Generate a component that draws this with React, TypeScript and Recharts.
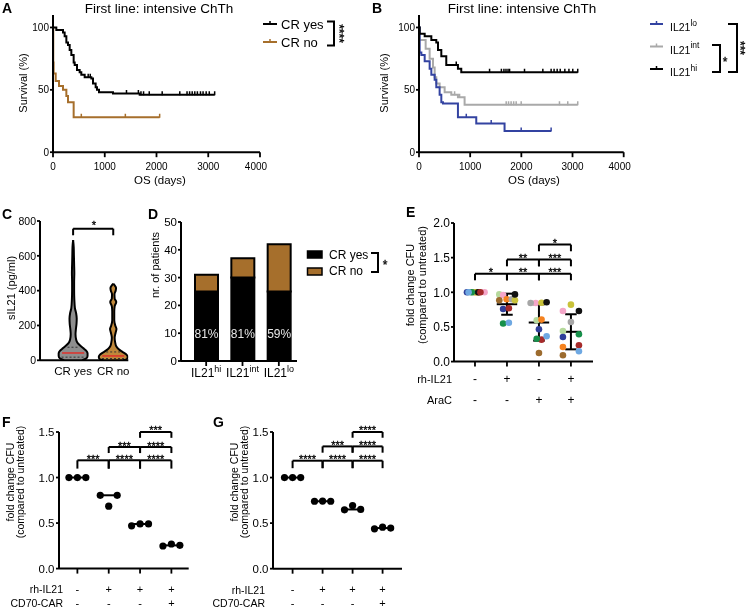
import React from "react";
import {
  ComposedChart,
  Line,
  Scatter,
  Area,
  XAxis,
  YAxis,
  BarChart,
  Bar,
  LabelList,
  ReferenceLine,
} from "recharts";

const FONT = "'Liberation Sans', Arial, Helvetica, sans-serif";
const BROWN = "#A66F2C";
const BLUE = "#3343A1";
const GREY = "#A9A9A9";

// ---------- A / B: Kaplan-Meier, OS (days) vs survival (%) ----------
type Step = [number, number];

const crYesSteps: Step[] = [
  [0, 100], [64, 98], [193, 96], [225, 93], [258, 88], [290, 86], [322, 82], [354, 78],
  [399, 72], [419, 70], [464, 66], [515, 64], [547, 62], [612, 60], [741, 59], [773, 55],
  [824, 52], [850, 50], [889, 48], [1159, 47], [1675, 46], [3124, 46],
];
const crYesCensored = [680, 720, 1420, 1650, 1700, 1750, 1860, 2110, 2450, 2590, 2640, 2690, 2740, 2790, 2850, 2900, 2960, 3020, 3124];
const crNoSteps: Step[] = [
  [0, 100], [5, 72], [12, 63], [52, 57], [116, 53], [193, 50], [258, 45], [290, 40], [399, 28], [2061, 28],
];
const crNoCensored = [547, 1398, 2061];

const il21HiSteps: Step[] = [
  [0, 100], [13, 95], [111, 93], [241, 90], [338, 88], [371, 82], [436, 77], [533, 70], [761, 67], [826, 64], [3102, 64],
];
const il21HiCensored = [728, 1379, 1610, 1660, 1700, 1740, 1770, 2062, 2420, 2582, 2640, 2700, 2760, 2850, 2930, 3005, 3102];
const il21IntSteps: Step[] = [
  [0, 100], [13, 90], [130, 83], [208, 75], [273, 68], [306, 60], [338, 55], [403, 52], [501, 48], [631, 46], [761, 44], [891, 38], [3102, 38],
];
const il21IntCensored = [696, 793, 1704, 1750, 1800, 1850, 1899, 1997, 2745, 2907, 3102];
const il21LoSteps: Step[] = [
  [0, 100], [13, 80], [46, 78], [111, 73], [208, 67], [241, 62], [306, 58], [338, 52], [403, 46], [436, 40],
  [468, 39], [761, 28], [1119, 23], [1672, 17], [2582, 17],
];
const il21LoCensored = [924, 1411, 1997, 2582];

const osTicks = [0, 1000, 2000, 3000, 4000];
const survTicks = [0, 50, 100];

// ---------- C: sIL21 violins ----------
const cGroups = ["CR yes", "CR no"];
// [pg/ml, half width of violin]
const cYesProfile: [number, number][] = [
  [0, 0.225], [10, 0.325], [25, 0.36], [40, 0.36], [55, 0.325], [70, 0.25], [85, 0.175], [100, 0.11],
  [120, 0.075], [150, 0.06], [180, 0.07], [210, 0.085], [240, 0.09], [270, 0.075], [300, 0.045],
  [350, 0.03], [400, 0.025], [450, 0.025], [500, 0.03], [550, 0.025], [600, 0.02], [650, 0.015], [690, 0],
];
const cNoProfile: [number, number][] = [
  [0, 0.25], [10, 0.35], [20, 0.36], [35, 0.32], [50, 0.22], [65, 0.13], [80, 0.075], [100, 0.05],
  [130, 0.035], [160, 0.06], [180, 0.08], [200, 0.05], [230, 0.025], [280, 0.025], [310, 0.035],
  [335, 0.075], [355, 0.035], [380, 0.03], [400, 0.06], [415, 0.07], [430, 0.035], [440, 0],
];
const cMedians = [42, 25];
const cQuartiles = [[18, 75], [10, 48]];

// ---------- D: patients per IL21 group ----------
const dGroups = ["hi", "int", "lo"];
const dCrYes = [25, 30, 25];
const dCrNo = [6, 7, 17];
const dPct = ["81%", "81%", "59%"];

// ---------- E: CFU, 11 donors ----------
const eRhIL21 = ["-", "+", "-", "+"];
const eAraC = ["-", "-", "+", "+"];
const eDonorColors = ["#B5D99C", "#F4A6C8", "#9C6B2E", "#F5821F", "#A6A6A6", "#C9C23A", "#111111", "#2F3F99", "#A62A2A", "#16904A", "#6EA8E2"];
const eValues = [
  [1, 0.97, 0.596, 0.44],
  [1, 0.96, 0.846, 0.73],
  [1, 0.885, 0.125, 0.091],
  [1, 0.9, 0.606, 0.21],
  [1, 0.9, 0.846, 0.572],
  [1, 0.885, 0.85, 0.822],
  [1, 0.97, 0.856, 0.73],
  [1, 0.76, 0.466, 0.356],
  [1, 0.77, 0.317, 0.236],
  [1, 0.55, 0.33, 0.394],
  [1, 0.56, 0.365, 0.149],
];
const eJitter = [
  [-0.15, -0.24, -0.07, -0.25],
  [0.3, -0.12, -0.1, -0.25],
  [0.12, -0.24, 0, -0.25],
  [0.05, -0.01, 0.08, -0.25],
  [-0.05, 0.15, -0.26, 0],
  [0, 0.25, 0.08, 0],
  [0.1, 0.25, 0.24, 0.25],
  [-0.25, -0.12, 0, -0.25],
  [0.17, 0.06, 0.08, 0.25],
  [-0.1, -0.12, -0.07, 0.25],
  [-0.2, 0.06, 0.24, 0.25],
];
// [from, to, y of bar, y of end ticks, label]
type Br = [number, number, number, number, string];
const eBrackets: Br[] = [
  [1, 2, 1.267, 1.173, "*"], [2, 3, 1.267, 1.173, "**"], [3, 4, 1.267, 1.173, "***"],
  [2, 3, 1.472, 1.375, "**"], [3, 4, 1.472, 1.375, "***"],
  [3, 4, 1.688, 1.592, "*"],
];

// ---------- F / G: CD70-CAR ----------
const fgRhIL21 = ["-", "+", "+", "+"];
const fgCar = ["-", "-", "-", "+"];
const fValues = [[1, 1, 1], [0.805, 0.685, 0.805], [0.47, 0.49, 0.49], [0.248, 0.27, 0.255]];
const gValues = [[1, 1, 1], [0.74, 0.742, 0.74], [0.646, 0.693, 0.65], [0.438, 0.456, 0.446]];
const fgJitter = [-0.27, 0, 0.27];
const fBrackets: Br[] = [
  [1, 2, 1.189, 1.098, "***"], [2, 3, 1.189, 1.098, "****"], [3, 4, 1.189, 1.098, "****"],
  [2, 3, 1.335, 1.269, "***"], [3, 4, 1.335, 1.269, "****"],
  [3, 4, 1.5, 1.436, "***"],
];
const gBrackets: Br[] = [
  [1, 2, 1.185, 1.103, "****"], [2, 3, 1.185, 1.103, "****"], [3, 4, 1.185, 1.103, "****"],
  [2, 3, 1.342, 1.273, "***"], [3, 4, 1.342, 1.273, "****"],
  [3, 4, 1.5, 1.437, "****"],
];
const cfuTicks = [0, 0.5, 1, 1.5];

// ---------- helpers ----------
const axisLine = { stroke: "#000", strokeWidth: 2 };
const tickLine = { stroke: "#000", strokeWidth: 1.8 };
const tickText = (fs: number) => ({ fill: "#000", fontSize: fs, fontFamily: FONT });

type Rect = { x0: number; y0: number; x1: number; y1: number };
const YW = 44;
const PAD = 12;
function frame(r: Rect, xh: number) {
  return {
    pos: { position: "absolute" as const, left: r.x0 - YW, top: r.y0 - PAD, willChange: "transform" },
    width: r.x1 - r.x0 + YW + PAD,
    height: r.y1 - r.y0 + PAD + xh,
    margin: { top: PAD, right: PAD, bottom: 0, left: 0 },
  };
}

function survAt(steps: Step[], t: number) {
  let s = steps[0][1];
  for (const [tt, ss] of steps) if (tt <= t) s = ss;
  return s;
}

function XTick(props: any) {
  const { x, y, payload, fs, dy, fmt } = props;
  return (
    <text x={x} y={y + dy} textAnchor="middle" fontSize={fs} fontFamily={FONT} fill="#000">
      {fmt ? fmt(payload.value) : payload.value}
    </text>
  );
}

function SupTick(props: any) {
  const { x, y, payload } = props;
  return (
    <text x={x} y={y + 11} textAnchor="middle" fontSize={12} fontFamily={FONT} fill="#000">
      IL21
      <tspan dy={-5} fontSize={9}>{payload.value}</tspan>
    </text>
  );
}

function SignTick(props: any) {
  const { x, y, payload, rows, dys, fs } = props;
  const i = Math.round(payload.value) - 1;
  return (
    <g>
      {rows.map((r: string[], k: number) => (
        <text key={k} x={x} y={y + dys[k]} textAnchor="middle" fontSize={fs} fontFamily={FONT} fill="#000">
          {r[i]}
        </text>
      ))}
    </g>
  );
}

// significance stars above a bracket
function StarLabel(props: any) {
  const { viewBox, text } = props;
  if (!viewBox || !text) return null;
  return (
    <text x={viewBox.x + viewBox.width / 2} y={viewBox.y + 2.5} textAnchor="middle" fontSize={11}
      fontFamily={FONT} fill="#000" stroke="#000" strokeWidth={0.3}>
      {text}
    </text>
  );
}

const censorShape = (color: string) => (p: any) =>
  <line x1={p.cx} x2={p.cx} y1={p.cy - 3.5} y2={p.cy + 0.5} stroke={color} strokeWidth={1.5} />;

function bracketLines(list: Br[], prefix: string) {
  const seg = { stroke: "#000", strokeWidth: 2, ifOverflow: "visible" as const };
  return list.flatMap(([a, b, y, yt, lab], i) => [
    <ReferenceLine key={`${prefix}h${i}`} segment={[{ x: a, y }, { x: b, y }]} {...seg} label={<StarLabel text={lab} />} />,
    <ReferenceLine key={`${prefix}a${i}`} segment={[{ x: a, y }, { x: a, y: yt }]} {...seg} />,
    <ReferenceLine key={`${prefix}b${i}`} segment={[{ x: b, y }, { x: b, y: yt }]} {...seg} />,
  ]);
}

type Curve = { steps: Step[]; censored: number[]; color: string };

function KMChart({ rect, curves }: { rect: Rect; curves: Curve[] }) {
  const f = frame(rect, 26);
  return (
    <div style={f.pos}>
      <ComposedChart width={f.width} height={f.height} margin={f.margin}>
        <XAxis type="number" dataKey="t" domain={[0, 4000]} ticks={osTicks} allowDataOverflow height={26}
          axisLine={axisLine} tickLine={tickLine} tickSize={5} tickMargin={0} tick={<XTick fs={10} dy={13} />} />
        <YAxis type="number" dataKey="s" domain={[0, 110]} ticks={survTicks} allowDataOverflow width={YW}
          axisLine={axisLine} tickLine={tickLine} tickSize={3} tickMargin={1} tick={tickText(10)} />
        {curves.map((c, i) => (
          <Line key={`l${i}`} data={c.steps.map(([t, s]) => ({ t, s }))} dataKey="s" type="stepAfter"
            stroke={c.color} strokeWidth={2} dot={false} isAnimationActive={false} />
        ))}
        {curves.map((c, i) => (
          <Scatter key={`c${i}`} data={c.censored.map((t) => ({ t, s: survAt(c.steps, t) }))} dataKey="s"
            fill={c.color} shape={censorShape(c.color)} isAnimationActive={false} />
        ))}
      </ComposedChart>
    </div>
  );
}

function ViolinChart() {
  const rect = { x0: 40, y0: 220.7, x1: 128.3, y1: 360 };
  const f = frame(rect, 24);
  const violin = (prof: [number, number][], c: number) => prof.map(([v, w]) => ({ v, r: [c - w, c + w] }));
  const hwAt = (prof: [number, number][], v: number) => (prof.find((p) => p[0] >= v) || prof[0])[1];
  const profs = [cYesProfile, cNoProfile];
  return (
    <div style={f.pos}>
      <ComposedChart layout="vertical" width={f.width} height={f.height} margin={f.margin}>
        <XAxis type="number" domain={[0.175, 2.375]} ticks={[1, 2]} allowDataOverflow height={24}
          axisLine={axisLine} tickLine={false} tickSize={0} tickMargin={0}
          tick={<XTick fs={11.5} dy={15} fmt={(v: number) => cGroups[v - 1]} />} />
        <YAxis type="number" dataKey="v" domain={[0, 800]} ticks={[0, 200, 400, 600, 800]} allowDataOverflow width={YW}
          reversed axisLine={axisLine} tickLine={tickLine} tickSize={3} tickMargin={1} tick={tickText(10.5)} />
        <Area data={violin(cYesProfile, 1)} dataKey="r" type="monotone" stroke="#000" strokeWidth={2}
          fill="#8E8E8E" fillOpacity={1} isAnimationActive={false} />
        <Area data={violin(cNoProfile, 2)} dataKey="r" type="monotone" stroke="#000" strokeWidth={2}
          fill="#C0883A" fillOpacity={1} isAnimationActive={false} />
        {cQuartiles.flatMap((q, i) =>
          q.map((v, k) => (
            <ReferenceLine key={`q${i}${k}`} segment={[{ x: i + 1 - hwAt(profs[i], v) * 0.8, y: v }, { x: i + 1 + hwAt(profs[i], v) * 0.8, y: v }]}
              stroke="#333" strokeWidth={1} strokeDasharray="2 2" />
          ))
        )}
        {cMedians.map((m, i) => (
          <ReferenceLine key={`m${i}`} segment={[{ x: i + 1 - hwAt(profs[i], m) * 0.85, y: m }, { x: i + 1 + hwAt(profs[i], m) * 0.85, y: m }]}
            stroke="#E0302A" strokeWidth={1.5} />
        ))}
        {bracketLines([[1, 2, 756, 718, ""]], "c")}
      </ComposedChart>
    </div>
  );
}

function StackChart() {
  const rect = { x0: 181, y0: 222, x1: 297, y1: 361 };
  const f = frame(rect, 26);
  const data = dGroups.map((g, i) => ({ g, yes: dCrYes[i], no: dCrNo[i], pct: dPct[i] }));
  return (
    <div style={f.pos}>
      <BarChart data={data} width={f.width} height={f.height} margin={f.margin}>
        <XAxis dataKey="g" type="category" padding={{ left: 7, right: 0 }} height={26}
          axisLine={axisLine} tickLine={tickLine} tickSize={5} tickMargin={0} tick={<SupTick />} />
        <YAxis type="number" domain={[0, 50]} ticks={[0, 10, 20, 30, 40, 50]} allowDataOverflow width={YW}
          axisLine={axisLine} tickLine={tickLine} tickSize={3} tickMargin={1} tick={tickText(11.5)} />
        <Bar dataKey="yes" stackId="s" fill="#000" stroke="#000" strokeWidth={2} barSize={23} isAnimationActive={false}>
          <LabelList dataKey="pct" position="insideBottom" offset={23} fill="#E6E6E6" fontSize={12} fontFamily={FONT} />
        </Bar>
        <Bar dataKey="no" stackId="s" fill={BROWN} stroke="#000" strokeWidth={2} barSize={23} isAnimationActive={false} />
      </BarChart>
    </div>
  );
}

function colStats(values: number[][], g: number) {
  const col = values.map((r) => r[g]);
  const m = col.reduce((a, b) => a + b, 0) / col.length;
  const sd = Math.sqrt(col.reduce((a, b) => a + (b - m) * (b - m), 0) / (col.length - 1));
  return { m, sd };
}

function DonorChart() {
  const rect = { x0: 454, y0: 222.7, x1: 593, y1: 361.3 };
  const f = frame(rect, 50);
  const seg = { stroke: "#000", strokeWidth: 2, ifOverflow: "visible" as const };
  return (
    <div style={f.pos}>
      <ComposedChart width={f.width} height={f.height} margin={f.margin}>
        <XAxis type="number" dataKey="x" domain={[0.344, 4.69]} ticks={[1, 2, 3, 4]} allowDataOverflow height={50}
          axisLine={axisLine} tickLine={tickLine} tickSize={5} tickMargin={0}
          tick={<SignTick rows={[eRhIL21, eAraC]} dys={[16, 37.5]} fs={12} />} />
        <YAxis type="number" dataKey="y" domain={[0, 2]} ticks={[0, 0.5, 1, 1.5, 2]} allowDataOverflow width={YW}
          axisLine={axisLine} tickLine={tickLine} tickSize={3} tickMargin={1} tick={tickText(12)}
          tickFormatter={(v: number) => v.toFixed(1)} />
        {eDonorColors.map((c, i) => (
          <Scatter key={`d${i}`} data={eValues[i].map((v, g) => ({ x: g + 1 + eJitter[i][g], y: v }))}
            fill={c} isAnimationActive={false}
            shape={(p: any) => <circle cx={p.cx} cy={p.cy} r={3.3} fill={c} />} />
        ))}
        {[0, 1, 2, 3].flatMap((g) => {
          const { m, sd } = colStats(eValues, g);
          const x = g + 1;
          const out = [<ReferenceLine key={`em${g}`} segment={[{ x: x - 0.32, y: m }, { x: x + 0.32, y: m }]} {...seg} />];
          if (sd > 0) {
            out.push(
              <ReferenceLine key={`ev${g}`} segment={[{ x, y: m - sd }, { x, y: m + sd }]} {...seg} />,
              <ReferenceLine key={`et${g}`} segment={[{ x: x - 0.18, y: m + sd }, { x: x + 0.18, y: m + sd }]} {...seg} />,
              <ReferenceLine key={`eb${g}`} segment={[{ x: x - 0.18, y: m - sd }, { x: x + 0.18, y: m - sd }]} {...seg} />
            );
          }
          return out;
        })}
        {bracketLines(eBrackets, "e")}
      </ComposedChart>
    </div>
  );
}

function CarChart({ rect, values, domain, brackets, id }: { rect: Rect; values: number[][]; domain: [number, number]; brackets: Br[]; id: string }) {
  const f = frame(rect, 42);
  const pts = values.flatMap((grp, g) => grp.map((v, k) => ({ x: g + 1 + fgJitter[k], y: v })));
  return (
    <div style={f.pos}>
      <ComposedChart width={f.width} height={f.height} margin={f.margin}>
        <XAxis type="number" dataKey="x" domain={domain} ticks={[1, 2, 3, 4]} allowDataOverflow height={42}
          axisLine={axisLine} tickLine={tickLine} tickSize={5} tickMargin={0}
          tick={<SignTick rows={[fgRhIL21, fgCar]} dys={[19.7, 33]} fs={11} />} />
        <YAxis type="number" dataKey="y" domain={[0, 1.5]} ticks={cfuTicks} allowDataOverflow width={YW}
          axisLine={axisLine} tickLine={tickLine} tickSize={3} tickMargin={1.5} tick={tickText(11.5)}
          tickFormatter={(v: number) => v.toFixed(1)} />
        {values.map((grp, g) => {
          const med = [...grp].sort((a, b) => a - b)[1];
          return (
            <ReferenceLine key={`${id}m${g}`} segment={[{ x: g + 1 + fgJitter[0], y: med }, { x: g + 1 + fgJitter[2], y: med }]}
              stroke="#000" strokeWidth={2} />
          );
        })}
        <Scatter data={pts} fill="#000" isAnimationActive={false}
          shape={(p: any) => <circle cx={p.cx} cy={p.cy} r={3.6} fill="#000" />} />
        {bracketLines(brackets, id)}
      </ComposedChart>
    </div>
  );
}

function T({ x, y, s = 11, a = "start", w = 400, r, k, children }: any) {
  return (
    <text x={x} y={y} fontSize={s} textAnchor={a} fontWeight={w} fontFamily={FONT} fill="#000"
      stroke={k ? "#000" : undefined} strokeWidth={k ? 0.3 : undefined}
      transform={r ? `rotate(${r} ${x} ${y})` : undefined} dominantBaseline={r === -90 ? "central" : undefined}>
      {children}
    </text>
  );
}

function Overlay() {
  const st = { stroke: "#000", strokeWidth: 2, fill: "none" };
  return (
    <svg width={747} height={611} style={{ position: "absolute", left: 0, top: 0, pointerEvents: "none", willChange: "transform" }}>
      {/* panel letters */}
      <T x={2} y={13} s={14} w={700}>A</T>
      <T x={372} y={13} s={14} w={700}>B</T>
      <T x={2} y={219} s={14} w={700}>C</T>
      <T x={148} y={219} s={14} w={700}>D</T>
      <T x={406} y={217} s={14} w={700}>E</T>
      <T x={2} y={427} s={14} w={700}>F</T>
      <T x={213} y={427} s={14} w={700}>G</T>

      {/* A */}
      <T x={159} y={13} s={13.5} a="middle">First line: intensive ChTh</T>
      <T x={23} y={83} a="middle" r={-90}>Survival (%)</T>
      <T x={160} y={184} s={11.5} a="middle">OS (days)</T>
      <line x1={263} x2={277} y1={24} y2={24} {...st} />
      <line x1={270} x2={270} y1={21} y2={24} stroke="#000" strokeWidth={1.5} />
      <T x={281} y={28.5} s={13}>CR yes</T>
      <line x1={263} x2={277} y1={42} y2={42} stroke={BROWN} strokeWidth={2} />
      <line x1={270} x2={270} y1={39} y2={42} stroke={BROWN} strokeWidth={1.5} />
      <T x={281} y={46.5} s={13}>CR no</T>
      <path d="M327 21.5 H334 V45.5 H327" {...st} />
      <T x={334.5} y={33.5} s={12} a="middle" r={90} k>****</T>

      {/* B */}
      <T x={522} y={13} s={13.5} a="middle">First line: intensive ChTh</T>
      <T x={384} y={83} a="middle" r={-90}>Survival (%)</T>
      <T x={534} y={184} s={11.5} a="middle">OS (days)</T>
      {[
        { y: 24, c: BLUE, sup: "lo" },
        { y: 46.5, c: GREY, sup: "int" },
        { y: 69, c: "#000", sup: "hi" },
      ].map((l) => (
        <g key={l.sup}>
          <line x1={650} x2={663} y1={l.y} y2={l.y} stroke={l.c} strokeWidth={2} />
          <line x1={656.5} x2={656.5} y1={l.y - 3} y2={l.y} stroke={l.c} strokeWidth={1.5} />
          <text x={670} y={l.y + 7} fontSize={10.5} fontFamily={FONT} fill="#000">
            IL21<tspan dy={-5.5} fontSize={8.5}>{l.sup}</tspan>
          </text>
        </g>
      ))}
      <path d="M728 24 H737 V72 H728" {...st} />
      <T x={735.5} y={48} s={12} a="middle" r={90} k>***</T>
      <path d="M712 45 H720 V72 H712" {...st} />
      <T x={725} y={66} s={12} a="middle" k>*</T>

      {/* C */}
      <T x={11} y={288} a="middle" r={-90}>sIL21 (pg/ml)</T>
      <T x={94} y={229} s={11} a="middle" k>*</T>

      {/* D */}
      <T x={155} y={265} a="middle" r={-90}>nr. of patients</T>
      <rect x={307.5} y={251} width={14.5} height={7} fill="#000" stroke="#000" strokeWidth={1.5} />
      <T x={329} y={258.5} s={12}>CR yes</T>
      <rect x={307.5} y={268} width={14.5} height={7} fill={BROWN} stroke="#000" strokeWidth={1.5} />
      <T x={329} y={275} s={12}>CR no</T>
      <path d="M371 253 H378 V272 H371" {...st} />
      <T x={385} y={269} s={12} a="middle" k>*</T>

      {/* E */}
      <T x={410} y={285} s={11} a="middle" r={-90}>fold change CFU</T>
      <T x={422} y={285} s={11} a="middle" r={-90}>(compared to untreated)</T>
      <T x={452} y={382.5} s={11} a="end">rh-IL21</T>
      <T x={452} y={404} s={11} a="end">AraC</T>

      {/* F */}
      <T x={10} y={482} s={10.5} a="middle" r={-90}>fold change CFU</T>
      <T x={20} y={482} s={10.5} a="middle" r={-90}>(compared to untreated)</T>
      <T x={63} y={593} s={10.5} a="end">rh-IL21</T>
      <T x={63} y={606.5} s={10.5} a="end">CD70-CAR</T>

      {/* G */}
      <T x={234} y={482} s={10.5} a="middle" r={-90}>fold change CFU</T>
      <T x={244} y={482} s={10.5} a="middle" r={-90}>(compared to untreated)</T>
      <T x={265} y={593.5} s={10.5} a="end">rh-IL21</T>
      <T x={265} y={606.5} s={10.5} a="end">CD70-CAR</T>
    </svg>
  );
}

export default function App() {
  return (
    <div style={{ position: "absolute", left: 0, top: 0, width: 747, height: 611, background: "#fff", fontFamily: FONT }}>
      <KMChart
        rect={{ x0: 53, y0: 14.8, x1: 260, y1: 152 }}
        curves={[
          { steps: crNoSteps, censored: crNoCensored, color: BROWN },
          { steps: crYesSteps, censored: crYesCensored, color: "#000" },
        ]}
      />
      <KMChart
        rect={{ x0: 419.3, y0: 14.8, x1: 624, y1: 152 }}
        curves={[
          { steps: il21IntSteps, censored: il21IntCensored, color: GREY },
          { steps: il21LoSteps, censored: il21LoCensored, color: BLUE },
          { steps: il21HiSteps, censored: il21HiCensored, color: "#000" },
        ]}
      />
      <ViolinChart />
      <StackChart />
      <DonorChart />
      <CarChart rect={{ x0: 59.3, y0: 431.7, x1: 189, y1: 568.3 }} values={fValues} domain={[0.413, 4.552]} brackets={fBrackets} id="f" />
      <CarChart rect={{ x0: 272.7, y0: 432.3, x1: 401.7, y1: 569 }} values={gValues} domain={[0.347, 4.647]} brackets={gBrackets} id="g" />
      <Overlay />
    </div>
  );
}
